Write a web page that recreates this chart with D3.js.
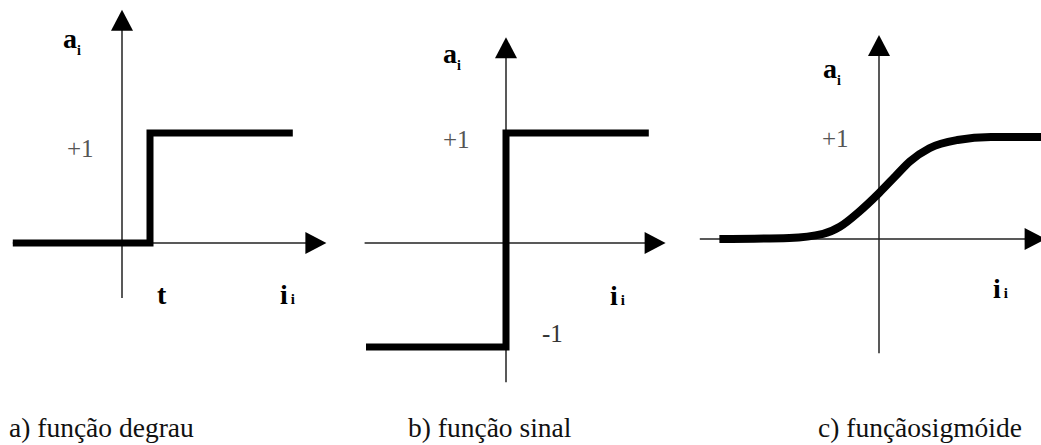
<!DOCTYPE html>
<html>
<head>
<meta charset="utf-8">
<script src="https://cdn.jsdelivr.net/npm/d3@7"></script>
<style>
  svg text { font-family: 'Liberation Serif', 'Times New Roman', Times, Tinos; }
</style>
</head>
<body style="margin:0">
<svg width="1041" height="445" font-family="Liberation Serif"></svg>
<script>
// a) degrau (limiar t = 1)
const stepX = [-3.9, 1, 1, 6.1];
const stepY = [0, 0, 1, 1];

// b) sinal
const signX = [-5, 0, 0, 5.1];
const signY = [-1, -1, 1, 1];

// c) sigmoide (lido da figura)
const sigX = [-5.7, -3.2, -2.0, -1.4, -0.7, 0, 0.6, 1.1, 1.8, 2.8, 4.0, 5.95];
const sigY = [0, 0.01, 0.05, 0.12, 0.27, 0.45, 0.62, 0.76, 0.89, 0.97, 1.0, 1.0];

const captions = ["a) função degrau", "b) função sinal", "c) funçãosigmóide"];
const plusLabel = "+1";
const minusLabel = "-1";

const FONT = "'Liberation Serif'";
const svg = d3.select("svg");

// escalas de cada painel (1 unidade em x = 28px)
const panels = [
    {
        x: d3.scaleLinear().domain([0, 1]).range([122, 150]),
        y: d3.scaleLinear().domain([0, 1]).range([243, 133]),
        xExt: [-3.9, 7.3], yExt: [-0.5, 2.12],
        xs: stepX, ys: stepY, curve: d3.curveLinear, width: 7
    },
    {
        x: d3.scaleLinear().domain([0, 1]).range([506, 534]),
        y: d3.scaleLinear().domain([-1, 0, 1]).range([347, 243, 133]),
        xExt: [-5.05, 5.7], yExt: [-1.34, 1.87],
        xs: signX, ys: signY, curve: d3.curveLinear, width: 7
    },
    {
        x: d3.scaleLinear().domain([0, 1]).range([879, 907]),
        y: d3.scaleLinear().domain([0, 1]).range([239, 137]),
        xExt: [-6.4, 5.95], yExt: [-1.12, 2.0],
        xs: sigX, ys: sigY, curve: d3.curveMonotoneX, width: 8
    }
];

function arrowHead(g, tx, ty, dir) {
    const len = 21, half = 11;
    let pts;
    if (dir === "up") pts = [[tx, ty], [tx - half, ty + len], [tx + half, ty + len]];
    else pts = [[tx, ty], [tx - len, ty - half], [tx - len, ty + half]];
    g.append("path")
        .attr("d", "M" + pts.map(p => p.join(",")).join("L") + "Z")
        .attr("fill", "#000");
}

panels.forEach(p => {
    const g = svg.append("g");
    const x0 = p.x(0), y0 = p.y(0);

    // eixos
    g.append("line")
        .attr("x1", p.x(p.xExt[0])).attr("x2", p.x(p.xExt[1]) - 15)
        .attr("y1", y0).attr("y2", y0)
        .attr("stroke", "#222").attr("stroke-width", 1.5);
    arrowHead(g, p.x(p.xExt[1]), y0, "right");

    g.append("line")
        .attr("x1", x0).attr("x2", x0)
        .attr("y1", p.y(p.yExt[0])).attr("y2", p.y(p.yExt[1]) + 15)
        .attr("stroke", "#222").attr("stroke-width", 1.5);
    arrowHead(g, x0, p.y(p.yExt[1]), "up");

    // funcao
    const line = d3.line()
        .x(i => p.x(p.xs[i]))
        .y(i => p.y(p.ys[i]))
        .curve(p.curve);
    g.append("path")
        .attr("d", line(d3.range(p.xs.length)))
        .attr("fill", "none")
        .attr("stroke", "#000")
        .attr("stroke-width", p.width)
        .attr("stroke-linejoin", "miter");
});

function label(x, y, size) {
    return svg.append("text").attr("x", x).attr("y", y)
        .attr("font-family", "Liberation Serif")
        .style("font-family", FONT).attr("font-size", size);
}

// rotulos a_i
[[63, 48], [443, 63], [823, 78]].forEach(pos => {
    const t = label(pos[0], pos[1], 28).attr("font-weight", "bold");
    t.append("tspan").text("a");
    t.append("tspan").attr("font-size", 14).attr("dy", 7).text("i");
});

// rotulos i_i
[[280, 304], [610, 305], [993, 298]].forEach(pos => {
    const t = label(pos[0], pos[1], 28).attr("font-weight", "bold");
    t.append("tspan").text("i");
    t.append("tspan").attr("font-size", 15).attr("dx", 3).text("i");
});

// +1
[[67, 157], [443, 148], [822, 147]].forEach(pos => {
    label(pos[0], pos[1], 25).attr("fill", "#555").text(plusLabel);
});

label(542, 342, 25).attr("fill", "#333").text(minusLabel);

label(157, 304, 28).attr("font-weight", "bold").text("t");

// legendas
[9, 408, 818].forEach((x, i) => {
    label(x, 437, 27.5).attr("fill", "#111").text(captions[i]);
});
</script>
</body>
</html>
